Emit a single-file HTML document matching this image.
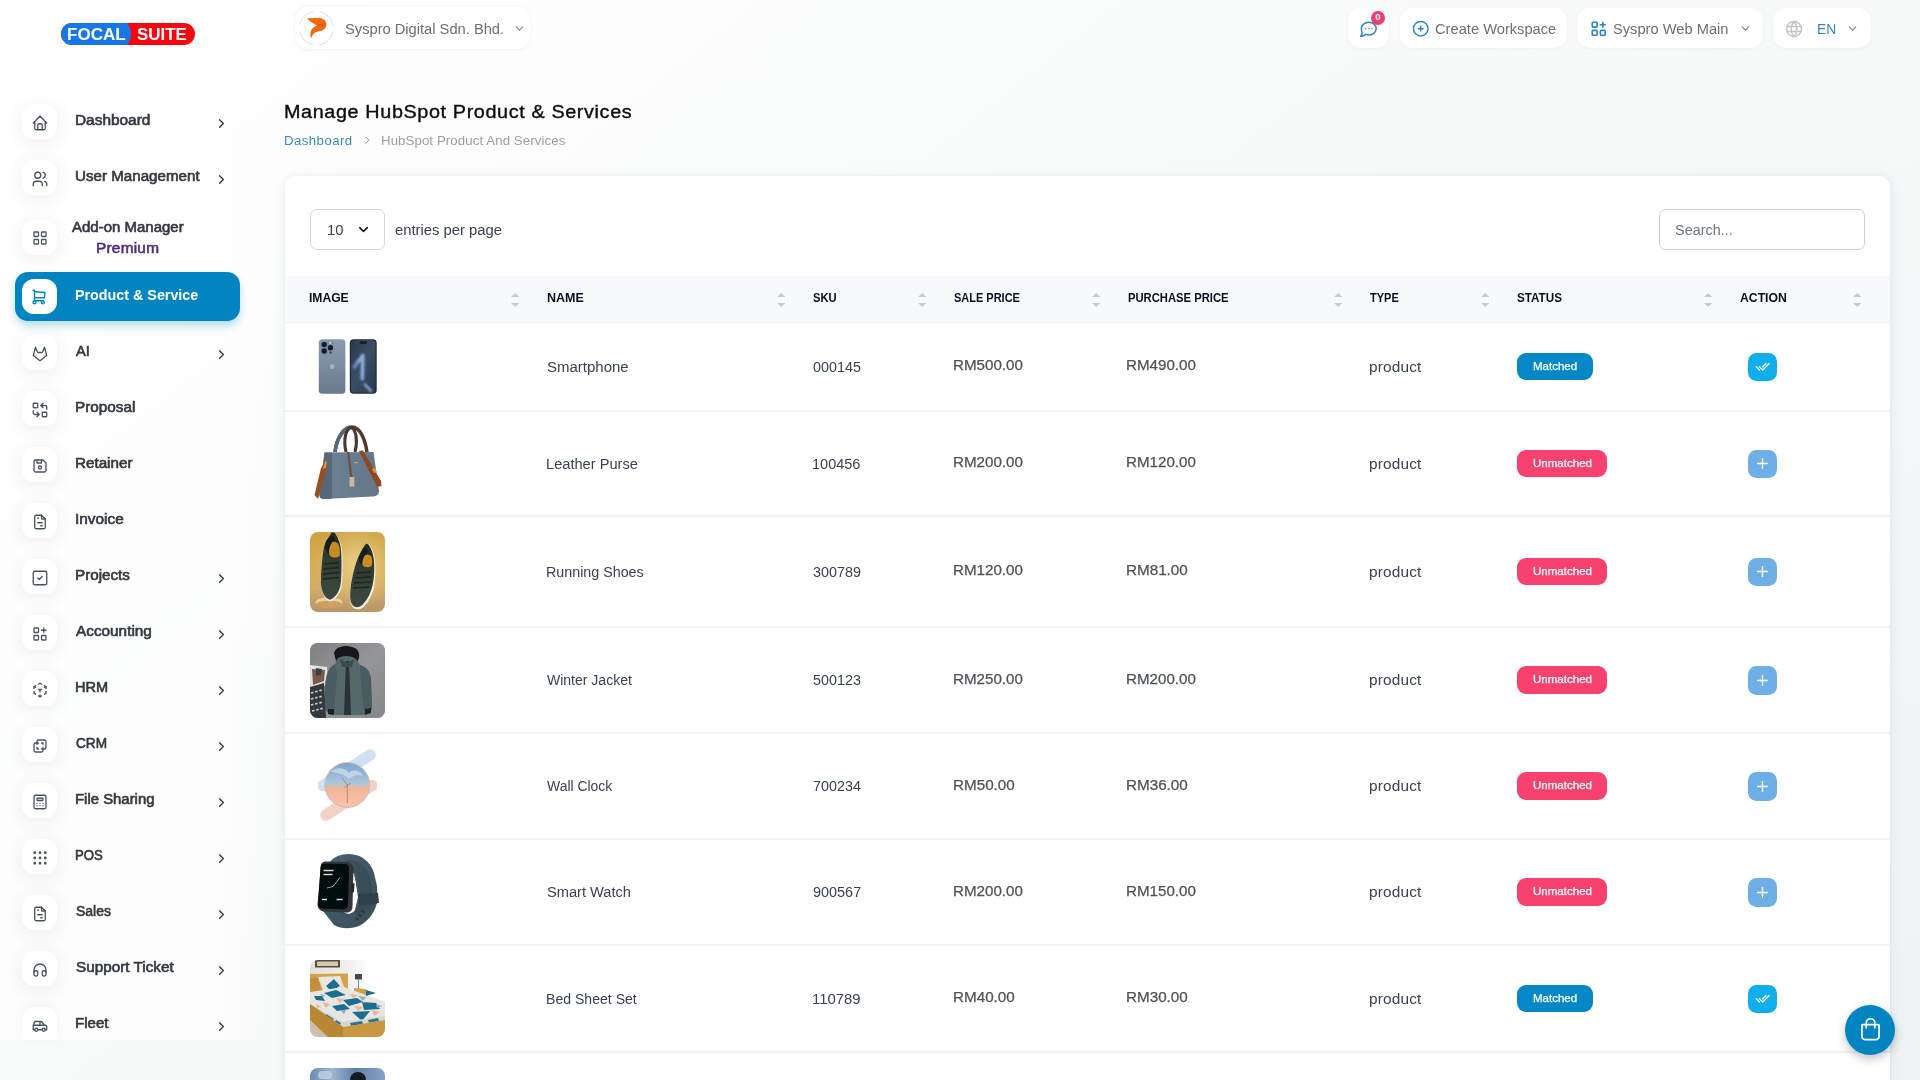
<!DOCTYPE html><html><head><meta charset="utf-8"><title>Manage HubSpot Product &amp; Services</title><style>

*{box-sizing:border-box;margin:0;padding:0}
html,body{width:1920px;height:1080px;overflow:hidden}
body{position:relative;background:#fff;font-family:"Liberation Sans", sans-serif;}
.t{position:absolute;white-space:nowrap;transform-origin:0 50%;}
svg{position:absolute;overflow:visible}
div{position:absolute}
.ib{width:35px;height:35px;left:22px;border-radius:12px;background:#fff;box-shadow:0 3px 18px rgba(70,75,90,.085)}
.hb{background:#fff;border-radius:13px;top:8px;height:40px;box-shadow:0 1px 3px rgba(200,205,215,.18)}
.sep{left:285px;width:1605px;height:2px;background:#f1f1f2}
.bm{left:1517px;width:76px;height:27.2px;border-radius:9px;background:#0688c6}
.bu{left:1517px;width:90px;height:27.2px;border-radius:9px;background:#f7426f}
.am{left:1748px;width:29px;height:28.4px;border-radius:8.5px;background:#10afeb}
.au{left:1748px;width:29px;height:28.4px;border-radius:8.5px;background:#6eb0e6}
.pi{overflow:hidden}

</style></head><body>
<div style="left:0;top:0;width:1920px;height:1080px;background:linear-gradient(141.55deg,rgba(240,244,243,0) 3.46%,#f0f3f4 99.86%),#fff"></div>
<div style="left:0;top:0;width:270px;height:1040px;background:linear-gradient(90deg,rgba(255,255,255,.6) 0,rgba(255,255,255,.6) 80%,rgba(255,255,255,0) 100%)"></div>
<div style="left:61px;top:23px;width:134px;height:22px;border-radius:11px;background:#f8050f;overflow:hidden"><div style="left:-10px;top:-6px;width:80px;height:34px;border-radius:0 17px 17px 0;background:#1877e6"></div></div>
<span class="t " style="left:66.83px;top:24.59px;font-size:16.3px;color:#fff;font-weight:700;line-height:18.73px;transform:scaleX(1.0486);">FOCAL</span>
<span class="t " style="left:136.73px;top:24.59px;font-size:16.3px;color:#fff;font-weight:700;line-height:18.73px;transform:scaleX(1.0398);">SUITE</span>
<div class="ib" style="top:104px"></div>
<svg style="left:30.6px;top:114.1px" width="18" height="18" viewBox="0 0 24 24" fill="none" stroke="#49535d" stroke-width="1.75" stroke-linecap="round" stroke-linejoin="round"><path d="M5 12l-2 0l9 -9l9 9l-2 0"/><path d="M5 12v7a2 2 0 0 0 2 2h10a2 2 0 0 0 2 -2v-7"/><path d="M9 21v-6a2 2 0 0 1 2 -2h2a2 2 0 0 1 2 2v6"/></svg>
<span class="t " style="left:75.0px;top:112.11px;font-size:14px;color:#34393f;font-weight:400;line-height:16.09px;transform:scaleX(1.1);-webkit-text-stroke:.6px #34393f;">Dashboard</span>
<svg style="left:214.1px;top:115.7px" width="15" height="15" viewBox="0 0 24 24" fill="none" stroke="#33383d" stroke-width="2.1" stroke-linecap="round" stroke-linejoin="round"><path d="M9 6l6 6l-6 6"/></svg>
<div class="ib" style="top:160px"></div>
<svg style="left:30.6px;top:170.10000000000002px" width="18" height="18" viewBox="0 0 24 24" fill="none" stroke="#49535d" stroke-width="1.75" stroke-linecap="round" stroke-linejoin="round"><path d="M5 7a4 4 0 1 0 8 0a4 4 0 1 0 -8 0"/><path d="M3 21v-2a4 4 0 0 1 4 -4h4a4 4 0 0 1 4 4v2"/><path d="M16 3.13a4 4 0 0 1 0 7.75"/><path d="M21 21v-2a4 4 0 0 0 -3 -3.85"/></svg>
<span class="t " style="left:75.25px;top:168.11px;font-size:14px;color:#34393f;font-weight:400;line-height:16.09px;transform:scaleX(1.0819);-webkit-text-stroke:.6px #34393f;">User Management</span>
<svg style="left:214.1px;top:171.7px" width="15" height="15" viewBox="0 0 24 24" fill="none" stroke="#33383d" stroke-width="2.1" stroke-linecap="round" stroke-linejoin="round"><path d="M9 6l6 6l-6 6"/></svg>
<div class="ib" style="top:335px"></div>
<svg style="left:30.6px;top:345.1px" width="18" height="18" viewBox="0 0 24 24" fill="none" stroke="#49535d" stroke-width="1.75" stroke-linecap="round" stroke-linejoin="round"><path d="M21 14l-9 7l-9 -7l3 -11l3 7h6l3 -7z"/></svg>
<span class="t " style="left:76.2px;top:343.11px;font-size:14px;color:#34393f;font-weight:400;line-height:16.09px;transform:scaleX(1.0449);-webkit-text-stroke:.6px #34393f;">AI</span>
<svg style="left:214.1px;top:346.7px" width="15" height="15" viewBox="0 0 24 24" fill="none" stroke="#33383d" stroke-width="2.1" stroke-linecap="round" stroke-linejoin="round"><path d="M9 6l6 6l-6 6"/></svg>
<div class="ib" style="top:391px"></div>
<svg style="left:30.6px;top:401.1px" width="18" height="18" viewBox="0 0 24 24" fill="none" stroke="#49535d" stroke-width="1.75" stroke-linecap="round" stroke-linejoin="round"><path d="M3 4a1 1 0 0 1 1 -1h4a1 1 0 0 1 1 1v4a1 1 0 0 1 -1 1h-4a1 1 0 0 1 -1 -1z"/><path d="M15 16a1 1 0 0 1 1 -1h4a1 1 0 0 1 1 1v4a1 1 0 0 1 -1 1h-4a1 1 0 0 1 -1 -1z"/><path d="M21 11v-3a2 2 0 0 0 -2 -2h-6l3 3m0 -6l-3 3"/><path d="M3 13v3a2 2 0 0 0 2 2h6l-3 -3m0 6l3 -3"/></svg>
<span class="t " style="left:75.0px;top:399.11px;font-size:14px;color:#34393f;font-weight:400;line-height:16.09px;transform:scaleX(1.0932);-webkit-text-stroke:.6px #34393f;">Proposal</span>
<div class="ib" style="top:447px"></div>
<svg style="left:30.6px;top:457.1px" width="18" height="18" viewBox="0 0 24 24" fill="none" stroke="#49535d" stroke-width="1.75" stroke-linecap="round" stroke-linejoin="round"><path d="M6 4h10l4 4v10a2 2 0 0 1 -2 2h-12a2 2 0 0 1 -2 -2v-12a2 2 0 0 1 2 -2"/><path d="M10 14a2 2 0 1 0 4 0a2 2 0 1 0 -4 0"/><path d="M14 4l0 4l-6 0l0 -4"/></svg>
<span class="t " style="left:75.01px;top:455.11px;font-size:14px;color:#34393f;font-weight:400;line-height:16.09px;transform:scaleX(1.0859);-webkit-text-stroke:.6px #34393f;">Retainer</span>
<div class="ib" style="top:503px"></div>
<svg style="left:30.6px;top:513.0999999999999px" width="18" height="18" viewBox="0 0 24 24" fill="none" stroke="#49535d" stroke-width="1.75" stroke-linecap="round" stroke-linejoin="round"><path d="M14 3v4a1 1 0 0 0 1 1h4"/><path d="M17 21h-10a2 2 0 0 1 -2 -2v-14a2 2 0 0 1 2 -2h7l5 5v11a2 2 0 0 1 -2 2z"/><path d="M9 7l1 0"/><path d="M9 13l6 0"/><path d="M13 17l2 0"/></svg>
<span class="t " style="left:75.0px;top:511.11px;font-size:14px;color:#34393f;font-weight:400;line-height:16.09px;transform:scaleX(1.1);-webkit-text-stroke:.6px #34393f;">Invoice</span>
<div class="ib" style="top:559px"></div>
<svg style="left:30.6px;top:569.0999999999999px" width="18" height="18" viewBox="0 0 24 24" fill="none" stroke="#49535d" stroke-width="1.75" stroke-linecap="round" stroke-linejoin="round"><path d="M3 5a2 2 0 0 1 2 -2h14a2 2 0 0 1 2 2v14a2 2 0 0 1 -2 2h-14a2 2 0 0 1 -2 -2z"/><path d="M9 12l2 2l4 -4"/></svg>
<span class="t " style="left:75.01px;top:567.11px;font-size:14px;color:#34393f;font-weight:400;line-height:16.09px;transform:scaleX(1.0848);-webkit-text-stroke:.6px #34393f;">Projects</span>
<svg style="left:214.1px;top:570.7px" width="15" height="15" viewBox="0 0 24 24" fill="none" stroke="#33383d" stroke-width="2.1" stroke-linecap="round" stroke-linejoin="round"><path d="M9 6l6 6l-6 6"/></svg>
<div class="ib" style="top:615px"></div>
<svg style="left:30.6px;top:625.0999999999999px" width="18" height="18" viewBox="0 0 24 24" fill="none" stroke="#49535d" stroke-width="1.75" stroke-linecap="round" stroke-linejoin="round"><path d="M4 5a1 1 0 0 1 1 -1h4a1 1 0 0 1 1 1v4a1 1 0 0 1 -1 1h-4a1 1 0 0 1 -1 -1z"/><path d="M4 15a1 1 0 0 1 1 -1h4a1 1 0 0 1 1 1v4a1 1 0 0 1 -1 1h-4a1 1 0 0 1 -1 -1z"/><path d="M14 15a1 1 0 0 1 1 -1h4a1 1 0 0 1 1 1v4a1 1 0 0 1 -1 1h-4a1 1 0 0 1 -1 -1z"/><path d="M14 7l6 0"/><path d="M17 4l0 6"/></svg>
<span class="t " style="left:76.2px;top:623.11px;font-size:14px;color:#34393f;font-weight:400;line-height:16.09px;transform:scaleX(1.0952);-webkit-text-stroke:.6px #34393f;">Accounting</span>
<svg style="left:214.1px;top:626.7px" width="15" height="15" viewBox="0 0 24 24" fill="none" stroke="#33383d" stroke-width="2.1" stroke-linecap="round" stroke-linejoin="round"><path d="M9 6l6 6l-6 6"/></svg>
<div class="ib" style="top:671px"></div>
<svg style="left:30.6px;top:681.0999999999999px" width="18" height="18" viewBox="0 0 24 24" fill="none" stroke="#49535d" stroke-width="1.75" stroke-linecap="round" stroke-linejoin="round"><path d="M6 17.6l-2 -1.1v-2.5"/><path d="M4 10v-2.5l2 -1.1"/><path d="M10 4.1l2 -1.1l2 1.1"/><path d="M18 6.4l2 1.1v2.5"/><path d="M20 14v2.5l-2 1.12"/><path d="M14 19.9l-2 1.1l-2 -1.1"/><path d="M12 12l2 -1.1"/><path d="M18 8.6l2 -1.1"/><path d="M12 12l0 2.5"/><path d="M12 18.5l0 2.5"/><path d="M12 12l-2 -1.12"/><path d="M6 8.6l-2 -1.1"/></svg>
<span class="t " style="left:75.06px;top:679.11px;font-size:14px;color:#34393f;font-weight:400;line-height:16.09px;transform:scaleX(1.0387);-webkit-text-stroke:.6px #34393f;">HRM</span>
<svg style="left:214.1px;top:682.7px" width="15" height="15" viewBox="0 0 24 24" fill="none" stroke="#33383d" stroke-width="2.1" stroke-linecap="round" stroke-linejoin="round"><path d="M9 6l6 6l-6 6"/></svg>
<div class="ib" style="top:727px"></div>
<svg style="left:30.6px;top:737.0999999999999px" width="18" height="18" viewBox="0 0 24 24" fill="none" stroke="#49535d" stroke-width="1.75" stroke-linecap="round" stroke-linejoin="round"><path d="M16 16v2a2 2 0 0 1 -2 2h-8a2 2 0 0 1 -2 -2v-8a2 2 0 0 1 2 -2h2v-2a2 2 0 0 1 2 -2h8a2 2 0 0 1 2 2v8a2 2 0 0 1 -2 2h-2"/><path d="M10 8l-2 0l0 2"/><path d="M8 14l0 2l2 0"/><path d="M14 8l2 0l0 2"/><path d="M16 14l0 2l-2 0"/></svg>
<span class="t " style="left:75.56px;top:735.11px;font-size:14px;color:#34393f;font-weight:400;line-height:16.09px;transform:scaleX(0.9741);-webkit-text-stroke:.6px #34393f;">CRM</span>
<svg style="left:214.1px;top:738.7px" width="15" height="15" viewBox="0 0 24 24" fill="none" stroke="#33383d" stroke-width="2.1" stroke-linecap="round" stroke-linejoin="round"><path d="M9 6l6 6l-6 6"/></svg>
<div class="ib" style="top:783px"></div>
<svg style="left:30.6px;top:793.0999999999999px" width="18" height="18" viewBox="0 0 24 24" fill="none" stroke="#49535d" stroke-width="1.75" stroke-linecap="round" stroke-linejoin="round"><path d="M4 5a2 2 0 0 1 2 -2h12a2 2 0 0 1 2 2v14a2 2 0 0 1 -2 2h-12a2 2 0 0 1 -2 -2z"/><path d="M8 8a1 1 0 0 1 1 -1h6a1 1 0 0 1 1 1v1a1 1 0 0 1 -1 1h-6a1 1 0 0 1 -1 -1z"/><path d="M8 14l0 .01"/><path d="M12 14l0 .01"/><path d="M16 14l0 .01"/><path d="M8 17l0 .01"/><path d="M12 17l0 .01"/><path d="M16 17l0 .01"/></svg>
<span class="t " style="left:75.04px;top:791.11px;font-size:14px;color:#34393f;font-weight:400;line-height:16.09px;transform:scaleX(1.0642);-webkit-text-stroke:.6px #34393f;">File Sharing</span>
<svg style="left:214.1px;top:794.7px" width="15" height="15" viewBox="0 0 24 24" fill="none" stroke="#33383d" stroke-width="2.1" stroke-linecap="round" stroke-linejoin="round"><path d="M9 6l6 6l-6 6"/></svg>
<div class="ib" style="top:839px"></div>
<svg style="left:30.6px;top:849.0999999999999px" width="18" height="18" viewBox="0 0 24 24" fill="none" stroke="#49535d" stroke-width="1.75" stroke-linecap="round" stroke-linejoin="round"><path d="M4 5a1 1 0 1 0 2 0a1 1 0 1 0 -2 0"/><path d="M4 12a1 1 0 1 0 2 0a1 1 0 1 0 -2 0"/><path d="M4 19a1 1 0 1 0 2 0a1 1 0 1 0 -2 0"/><path d="M11 5a1 1 0 1 0 2 0a1 1 0 1 0 -2 0"/><path d="M11 12a1 1 0 1 0 2 0a1 1 0 1 0 -2 0"/><path d="M11 19a1 1 0 1 0 2 0a1 1 0 1 0 -2 0"/><path d="M18 5a1 1 0 1 0 2 0a1 1 0 1 0 -2 0"/><path d="M18 12a1 1 0 1 0 2 0a1 1 0 1 0 -2 0"/><path d="M18 19a1 1 0 1 0 2 0a1 1 0 1 0 -2 0"/></svg>
<span class="t " style="left:75.17px;top:847.11px;font-size:14px;color:#34393f;font-weight:400;line-height:16.09px;transform:scaleX(0.9396);-webkit-text-stroke:.6px #34393f;">POS</span>
<svg style="left:214.1px;top:850.7px" width="15" height="15" viewBox="0 0 24 24" fill="none" stroke="#33383d" stroke-width="2.1" stroke-linecap="round" stroke-linejoin="round"><path d="M9 6l6 6l-6 6"/></svg>
<div class="ib" style="top:895px"></div>
<svg style="left:30.6px;top:905.0999999999999px" width="18" height="18" viewBox="0 0 24 24" fill="none" stroke="#49535d" stroke-width="1.75" stroke-linecap="round" stroke-linejoin="round"><path d="M14 3v4a1 1 0 0 0 1 1h4"/><path d="M17 21h-10a2 2 0 0 1 -2 -2v-14a2 2 0 0 1 2 -2h7l5 5v11a2 2 0 0 1 -2 2z"/><path d="M9 7l1 0"/><path d="M9 13l6 0"/><path d="M13 17l2 0"/></svg>
<span class="t " style="left:75.76px;top:903.11px;font-size:14px;color:#34393f;font-weight:400;line-height:16.09px;transform:scaleX(0.9957);-webkit-text-stroke:.6px #34393f;">Sales</span>
<svg style="left:214.1px;top:906.7px" width="15" height="15" viewBox="0 0 24 24" fill="none" stroke="#33383d" stroke-width="2.1" stroke-linecap="round" stroke-linejoin="round"><path d="M9 6l6 6l-6 6"/></svg>
<div class="ib" style="top:951px"></div>
<svg style="left:30.6px;top:961.0999999999999px" width="18" height="18" viewBox="0 0 24 24" fill="none" stroke="#49535d" stroke-width="1.75" stroke-linecap="round" stroke-linejoin="round"><path d="M4 15a2 2 0 0 1 2 -2h1a2 2 0 0 1 2 2v3a2 2 0 0 1 -2 2h-1a2 2 0 0 1 -2 -2z"/><path d="M15 15a2 2 0 0 1 2 -2h1a2 2 0 0 1 2 2v3a2 2 0 0 1 -2 2h-1a2 2 0 0 1 -2 -2z"/><path d="M4 15v-3a8 8 0 0 1 16 0v3"/></svg>
<span class="t " style="left:75.72px;top:959.11px;font-size:14px;color:#34393f;font-weight:400;line-height:16.09px;transform:scaleX(1.0912);-webkit-text-stroke:.6px #34393f;">Support Ticket</span>
<svg style="left:214.1px;top:962.7px" width="15" height="15" viewBox="0 0 24 24" fill="none" stroke="#33383d" stroke-width="2.1" stroke-linecap="round" stroke-linejoin="round"><path d="M9 6l6 6l-6 6"/></svg>
<div class="ib" style="top:1007px;height:33px;border-radius:12px 12px 3px 3px;box-shadow:0 -2px 8px rgba(160,170,190,.12)"></div>
<svg style="left:30.6px;top:1017.0999999999999px" width="18" height="18" viewBox="0 0 24 24" fill="none" stroke="#49535d" stroke-width="1.75" stroke-linecap="round" stroke-linejoin="round"><path d="M5 17a2 2 0 1 0 4 0a2 2 0 1 0 -4 0"/><path d="M15 17a2 2 0 1 0 4 0a2 2 0 1 0 -4 0"/><path d="M5 17h-2v-6l2 -5h9l4 5h1a2 2 0 0 1 2 2v4h-2m-4 0h-6m-6 -6h15m-6 0v-5"/></svg>
<span class="t " style="left:75.02px;top:1015.11px;font-size:14px;color:#34393f;font-weight:400;line-height:16.09px;transform:scaleX(1.0772);-webkit-text-stroke:.6px #34393f;">Fleet</span>
<svg style="left:214.1px;top:1018.7px" width="15" height="15" viewBox="0 0 24 24" fill="none" stroke="#33383d" stroke-width="2.1" stroke-linecap="round" stroke-linejoin="round"><path d="M9 6l6 6l-6 6"/></svg>
<div class="ib" style="top:220px"></div>
<svg style="left:30.6px;top:228.5px" width="18" height="18" viewBox="0 0 24 24" fill="none" stroke="#49535d" stroke-width="1.75" stroke-linecap="round" stroke-linejoin="round"><path d="M4 5a1 1 0 0 1 1 -1h4a1 1 0 0 1 1 1v4a1 1 0 0 1 -1 1h-4a1 1 0 0 1 -1 -1z"/><path d="M14 5a1 1 0 0 1 1 -1h4a1 1 0 0 1 1 1v4a1 1 0 0 1 -1 1h-4a1 1 0 0 1 -1 -1z"/><path d="M4 15a1 1 0 0 1 1 -1h4a1 1 0 0 1 1 1v4a1 1 0 0 1 -1 1h-4a1 1 0 0 1 -1 -1z"/><path d="M14 15a1 1 0 0 1 1 -1h4a1 1 0 0 1 1 1v4a1 1 0 0 1 -1 1h-4a1 1 0 0 1 -1 -1z"/></svg>
<span class="t " style="left:72.4px;top:219.11px;font-size:14px;color:#34393f;font-weight:400;line-height:16.09px;transform:scaleX(1.0708);-webkit-text-stroke:.6px #34393f;">Add-on Manager</span>
<span class="t " style="left:96.2px;top:240.11px;font-size:14px;color:#4b2a82;font-weight:400;line-height:16.09px;letter-spacing:0.211px;transform:scaleX(1.1);-webkit-text-stroke:.5px #4b2a82;">Premium</span>
<div style="left:15px;top:272px;width:225px;height:49px;border-radius:13px;background:#0284c0;box-shadow:0 5px 9px rgba(2,132,192,.28)"></div>
<div class="ib" style="top:279px;box-shadow:none"></div>
<svg style="left:30.4px;top:287.8px" width="18" height="18" viewBox="0 0 24 24" fill="none" stroke="#0284c0" stroke-width="1.9" stroke-linecap="round" stroke-linejoin="round"><path d="M4 19a2 2 0 1 0 4 0a2 2 0 1 0 -4 0"/><path d="M15 19a2 2 0 1 0 4 0a2 2 0 1 0 -4 0"/><path d="M17 17h-11v-14h-2"/><path d="M6 5l14 1l-1 7h-13"/></svg>
<span class="t " style="left:75.31px;top:287.11px;font-size:14px;color:#fff;font-weight:700;line-height:16.09px;transform:scaleX(1.022);">Product &amp; Service</span>
<div class="hb" style="left:293.5px;top:5.3px;width:238.5px;height:45px;border-radius:15px;border:1px solid #f5f6f7;box-shadow:0 1px 2px rgba(200,205,215,.10)"></div>
<svg style="left:297.5px;top:9.8px" width="36" height="36" viewBox="0 0 36 36">
<defs><linearGradient id="pg" x1="0" y1="0" x2="1" y2="1"><stop offset="0" stop-color="#ff6a00"/><stop offset=".55" stop-color="#f26a12"/><stop offset="1" stop-color="#e0560c"/></linearGradient></defs>
<circle cx="18.300" cy="18.200" r="17" fill="none" stroke="#cfd8e4" stroke-width=".9" stroke-dasharray="19.700 7" stroke-dashoffset="-3.500" opacity=".9"/>
<path d="M9 8.500L14.700 8.100L21.400 8.100C24 8.100 26.400 9.600 27.600 11.500C28.600 13.200 28.500 15.600 28 16.500C27 19 24.500 20.800 21.400 21.300C18 21.800 16 23 14.700 24.900C13.800 26.300 13.200 27.600 12.900 28.600C12 26 12 22.500 13.400 20C14.400 18.200 16.500 16.600 19.200 15.600L17.200 14.200C15.300 13.600 12.800 12 11.200 10.600z" fill="url(#pg)"/>
<path d="M17.200 14.200C20 14.700 23.500 14.600 25.700 13.400C26.100 14.200 25.900 15 25.400 15.700C23 16.100 21 15.500 19.200 15.600z" fill="#cf4d0b" opacity=".8"/>
</svg>
<span class="t " style="left:344.94px;top:20.81px;font-size:14px;color:#6b7076;font-weight:400;line-height:16.09px;transform:scaleX(1.0484);">Syspro Digital Sdn. Bhd.</span>
<svg style="left:512.8px;top:21.9px" width="13" height="13" viewBox="0 0 24 24" fill="none" stroke="#7a828a" stroke-width="2" stroke-linecap="round" stroke-linejoin="round"><path d="M6 9l6 6l6 -6"/></svg>
<div class="hb" style="left:1347.5px;width:41.5px"></div>
<svg style="left:1359.3px;top:20.6px" width="19" height="17" viewBox="0 0 19 17" fill="none" stroke="#2b86c2" stroke-width="1.5" stroke-linecap="round" stroke-linejoin="round">
<path d="M9.800 1.300c4.100 0 7.400 2.800 7.400 6.300s-3.300 6.300-7.400 6.300c-1.100 0-2.100-.2-3-.5c-1.300 1.200-3.200 1.900-5.200 1.800c1-.9 1.500-2 1.600-3.300c-.5-1.200-.8-2.700-.8-4.300c0-3.500 3.300-6.300 7.400-6.300z"/>
<path d="M6.600 7.600l0 .01M9.800 7.600l0 .01M13 7.600l0 .01" stroke-width="1.600" stroke="#8795a6"/></svg>
<div style="left:1370.8px;top:10.8px;width:14px;height:14px;border-radius:7px;background:#f23c6c"></div>
<span class="t " style="left:1375.3px;top:12.45px;font-size:9.5px;color:#fff;font-weight:700;line-height:10.92px;">0</span>
<div class="hb" style="left:1400px;width:166.7px"></div>
<svg style="left:1410.8px;top:19.1px" width="19.4" height="19.4" viewBox="0 0 24 24" fill="none" stroke="#2b86c2" stroke-width="1.8" stroke-linecap="round" stroke-linejoin="round"><path d="M3 12a9 9 0 1 0 18 0a9 9 0 1 0 -18 0"/><path d="M9 12l6 0"/><path d="M12 9l0 6"/></svg>
<span class="t " style="left:1435.11px;top:20.81px;font-size:14px;color:#6b7076;font-weight:400;line-height:16.09px;transform:scaleX(1.0485);">Create Workspace</span>
<div class="hb" style="left:1577px;width:186px"></div>
<svg style="left:1588.55px;top:19.15px" width="19.5" height="19.5" viewBox="0 0 24 24" fill="none" stroke="#2b86c2" stroke-width="2" stroke-linecap="round" stroke-linejoin="round"><path d="M4 5a1 1 0 0 1 1 -1h4a1 1 0 0 1 1 1v4a1 1 0 0 1 -1 1h-4a1 1 0 0 1 -1 -1z"/><path d="M4 15a1 1 0 0 1 1 -1h4a1 1 0 0 1 1 1v4a1 1 0 0 1 -1 1h-4a1 1 0 0 1 -1 -1z"/><path d="M14 15a1 1 0 0 1 1 -1h4a1 1 0 0 1 1 1v4a1 1 0 0 1 -1 1h-4a1 1 0 0 1 -1 -1z"/><path d="M14 7l6 0"/><path d="M17 4l0 6"/></svg>
<span class="t " style="left:1612.84px;top:20.81px;font-size:14px;color:#6b7076;font-weight:400;line-height:16.09px;transform:scaleX(1.0477);">Syspro Web Main</span>
<svg style="left:1738.9px;top:21.9px" width="13" height="13" viewBox="0 0 24 24" fill="none" stroke="#7a828a" stroke-width="2" stroke-linecap="round" stroke-linejoin="round"><path d="M6 9l6 6l6 -6"/></svg>
<div class="hb" style="left:1773px;width:97.8px"></div>
<svg style="left:1784.2px;top:18.8px" width="20" height="20" viewBox="0 0 24 24" fill="none" stroke="#c4c6c8" stroke-width="1.9" stroke-linecap="round" stroke-linejoin="round"><path d="M3 12a9 9 0 1 0 18 0a9 9 0 1 0 -18 0"/><path d="M3.6 9l16.8 0"/><path d="M3.6 15l16.8 0"/><path d="M11.5 3a17 17 0 0 0 0 18"/><path d="M12.5 3a17 17 0 0 1 0 18"/></svg>
<span class="t " style="left:1817.22px;top:20.81px;font-size:14px;color:#3a87b5;font-weight:400;line-height:16.09px;transform:scaleX(0.9876);">EN</span>
<svg style="left:1846.3px;top:21.9px" width="13" height="13" viewBox="0 0 24 24" fill="none" stroke="#7a828a" stroke-width="2" stroke-linecap="round" stroke-linejoin="round"><path d="M6 9l6 6l6 -6"/></svg>
<span class="t " style="left:283.75px;top:101.92px;font-size:18px;color:#0a0c10;font-weight:400;line-height:20.68px;letter-spacing:0.559px;transform:scaleX(1.1);-webkit-text-stroke:.35px #0a0c10;">Manage HubSpot Product &amp; Services</span>
<span class="t " style="left:284.35px;top:134.55px;font-size:12px;color:#3d8ab0;font-weight:400;line-height:13.79px;letter-spacing:0.405px;transform:scaleX(1.1);">Dashboard</span>
<svg style="left:360.65px;top:133.95px" width="12.5" height="12.5" viewBox="0 0 24 24" fill="none" stroke="#8e9499" stroke-width="1.9" stroke-linecap="round" stroke-linejoin="round"><path d="M9 6l6 6l-6 6"/></svg>
<span class="t " style="left:381.35px;top:134.55px;font-size:12px;color:#9b9fa3;font-weight:400;line-height:13.79px;letter-spacing:0.102px;transform:scaleX(1.1);">HubSpot Product And Services</span>
<div style="left:285px;top:176px;width:1605px;height:920px;border-radius:11px;background:#fff;box-shadow:0 3px 14px rgba(170,178,190,.22),0 0 4px rgba(170,178,190,.12)"></div>
<div style="left:310px;top:209px;width:75px;height:41px;border-radius:7px;border:1px solid #d3d6da;background:#fff"></div>
<span class="t " style="left:326.87px;top:221.61px;font-size:14px;color:#3a4250;font-weight:400;line-height:16.09px;transform:scaleX(1.0593);">10</span>
<svg style="left:355.5px;top:221.9px" width="15" height="15" viewBox="0 0 24 24" fill="none" stroke="#111" stroke-width="2.4" stroke-linecap="round" stroke-linejoin="round"><path d="M6 9l6 6l6 -6"/></svg>
<span class="t " style="left:394.94px;top:221.61px;font-size:14px;color:#3a4250;font-weight:400;line-height:16.09px;transform:scaleX(1.0582);">entries per page</span>
<div style="left:1659px;top:209px;width:206px;height:41px;border-radius:7px;border:1px solid #cdd0d4;background:#fff"></div>
<span class="t " style="left:1675.35px;top:221.61px;font-size:14px;color:#6c757d;font-weight:400;line-height:16.09px;transform:scaleX(1.0308);">Search...</span>
<div style="left:285px;top:275.5px;width:1605px;height:47px;background:#f8f9fc"></div>
<div class="sep" style="top:321.7px;height:1.6px;background:#eff0f3"></div>
<span class="t " style="left:309.49px;top:292.25px;font-size:12px;color:#0b0c1c;font-weight:700;line-height:13.79px;transform:scaleX(1.0084);">IMAGE</span>
<span class="t " style="left:546.67px;top:292.25px;font-size:12px;color:#0b0c1c;font-weight:700;line-height:13.79px;transform:scaleX(1.0417);">NAME</span>
<span class="t " style="left:813.02px;top:292.25px;font-size:12px;color:#0b0c1c;font-weight:700;line-height:13.79px;transform:scaleX(0.9334);">SKU</span>
<span class="t " style="left:953.73px;top:292.25px;font-size:12px;color:#0b0c1c;font-weight:700;line-height:13.79px;transform:scaleX(0.915);">SALE PRICE</span>
<span class="t " style="left:1127.55px;top:292.25px;font-size:12px;color:#0b0c1c;font-weight:700;line-height:13.79px;transform:scaleX(0.9369);">PURCHASE PRICE</span>
<span class="t " style="left:1370.21px;top:292.25px;font-size:12px;color:#0b0c1c;font-weight:700;line-height:13.79px;transform:scaleX(0.9159);">TYPE</span>
<span class="t " style="left:1516.91px;top:292.25px;font-size:12px;color:#0b0c1c;font-weight:700;line-height:13.79px;transform:scaleX(0.9722);">STATUS</span>
<span class="t " style="left:1739.95px;top:292.25px;font-size:12px;color:#0b0c1c;font-weight:700;line-height:13.79px;transform:scaleX(1.0182);">ACTION</span>
<svg style="left:510.8px;top:293.2px" width="8.4" height="14" viewBox="0 0 8.4 14"><path d="M4.2 0L8.4 3.9H0z M4.2 14L8.4 10.1H0z" fill="#c9cacd" stroke="none"/></svg>
<svg style="left:776.8px;top:293.2px" width="8.4" height="14" viewBox="0 0 8.4 14"><path d="M4.2 0L8.4 3.9H0z M4.2 14L8.4 10.1H0z" fill="#c9cacd" stroke="none"/></svg>
<svg style="left:917.8px;top:293.2px" width="8.4" height="14" viewBox="0 0 8.4 14"><path d="M4.2 0L8.4 3.9H0z M4.2 14L8.4 10.1H0z" fill="#c9cacd" stroke="none"/></svg>
<svg style="left:1091.8px;top:293.2px" width="8.4" height="14" viewBox="0 0 8.4 14"><path d="M4.2 0L8.4 3.9H0z M4.2 14L8.4 10.1H0z" fill="#c9cacd" stroke="none"/></svg>
<svg style="left:1333.8px;top:293.2px" width="8.4" height="14" viewBox="0 0 8.4 14"><path d="M4.2 0L8.4 3.9H0z M4.2 14L8.4 10.1H0z" fill="#c9cacd" stroke="none"/></svg>
<svg style="left:1480.8px;top:293.2px" width="8.4" height="14" viewBox="0 0 8.4 14"><path d="M4.2 0L8.4 3.9H0z M4.2 14L8.4 10.1H0z" fill="#c9cacd" stroke="none"/></svg>
<svg style="left:1703.8px;top:293.2px" width="8.4" height="14" viewBox="0 0 8.4 14"><path d="M4.2 0L8.4 3.9H0z M4.2 14L8.4 10.1H0z" fill="#c9cacd" stroke="none"/></svg>
<svg style="left:1852.8px;top:293.2px" width="8.4" height="14" viewBox="0 0 8.4 14"><path d="M4.2 0L8.4 3.9H0z M4.2 14L8.4 10.1H0z" fill="#c9cacd" stroke="none"/></svg>
<div class="sep" style="top:410px"></div>
<span class="t " style="left:546.73px;top:358.91px;font-size:14px;color:#3a4250;font-weight:400;line-height:16.09px;transform:scaleX(1.0709);">Smartphone</span>
<span class="t " style="left:812.95px;top:358.91px;font-size:14px;color:#3a4250;font-weight:400;line-height:16.09px;transform:scaleX(1.026);">000145</span>
<span class="t " style="left:953.22px;top:357.11px;font-size:14px;color:#4d5359;font-weight:400;line-height:16.09px;transform:scaleX(1.0815);-webkit-text-stroke:.25px #4d5359;">RM500.00</span>
<span class="t " style="left:1126.42px;top:357.11px;font-size:14px;color:#4d5359;font-weight:400;line-height:16.09px;transform:scaleX(1.0815);-webkit-text-stroke:.25px #4d5359;">RM490.00</span>
<span class="t " style="left:1369.04px;top:358.91px;font-size:14px;color:#3a4250;font-weight:400;line-height:16.09px;letter-spacing:0.143px;transform:scaleX(1.1);">product</span>
<div class="bm" style="top:352.9px"></div>
<span class="t " style="left:1532.67px;top:359.63px;font-size:10.5px;color:#fff;font-weight:400;line-height:12.06px;transform:scaleX(1.0959);-webkit-text-stroke:.25px #fff;">Matched</span>
<div class="am" style="top:352.7px"></div>
<svg style="left:1754.85px;top:359.05px" width="15.5" height="15.5" viewBox="0 0 24 24" fill="none" stroke="#fff" stroke-width="1.9" stroke-linecap="round" stroke-linejoin="round"><path d="M7 12l5 5l10 -10"/><path d="M2 12l5 5m5 -5l5 -5"/></svg>
<div class="sep" style="top:515px"></div>
<span class="t " style="left:546.06px;top:455.91px;font-size:14px;color:#3a4250;font-weight:400;line-height:16.09px;transform:scaleX(1.0454);">Leather Purse</span>
<span class="t " style="left:812.49px;top:455.91px;font-size:14px;color:#3a4250;font-weight:400;line-height:16.09px;transform:scaleX(1.0359);">100456</span>
<span class="t " style="left:953.22px;top:454.11px;font-size:14px;color:#4d5359;font-weight:400;line-height:16.09px;transform:scaleX(1.0815);-webkit-text-stroke:.25px #4d5359;">RM200.00</span>
<span class="t " style="left:1126.42px;top:454.11px;font-size:14px;color:#4d5359;font-weight:400;line-height:16.09px;transform:scaleX(1.0815);-webkit-text-stroke:.25px #4d5359;">RM120.00</span>
<span class="t " style="left:1369.04px;top:455.91px;font-size:14px;color:#3a4250;font-weight:400;line-height:16.09px;letter-spacing:0.143px;transform:scaleX(1.1);">product</span>
<div class="bu" style="top:449.9px"></div>
<span class="t " style="left:1532.72px;top:456.63px;font-size:10.5px;color:#fff;font-weight:400;line-height:12.06px;transform:scaleX(1.0985);-webkit-text-stroke:.25px #fff;">Unmatched</span>
<div class="au" style="top:449.7px"></div>
<svg style="left:1754.2px;top:455.2px" width="17" height="17" viewBox="0 0 24 24" fill="none" stroke="#fff" stroke-width="1.8" stroke-linecap="round" stroke-linejoin="round"><path d="M12 5l0 14"/><path d="M5 12l14 0"/></svg>
<div class="sep" style="top:626px"></div>
<span class="t " style="left:546.08px;top:563.91px;font-size:14px;color:#3a4250;font-weight:400;line-height:16.09px;transform:scaleX(1.0201);">Running Shoes</span>
<span class="t " style="left:812.95px;top:563.91px;font-size:14px;color:#3a4250;font-weight:400;line-height:16.09px;transform:scaleX(1.026);">300789</span>
<span class="t " style="left:953.22px;top:562.11px;font-size:14px;color:#4d5359;font-weight:400;line-height:16.09px;transform:scaleX(1.0815);-webkit-text-stroke:.25px #4d5359;">RM120.00</span>
<span class="t " style="left:1126.41px;top:562.11px;font-size:14px;color:#4d5359;font-weight:400;line-height:16.09px;transform:scaleX(1.0873);-webkit-text-stroke:.25px #4d5359;">RM81.00</span>
<span class="t " style="left:1369.04px;top:563.91px;font-size:14px;color:#3a4250;font-weight:400;line-height:16.09px;letter-spacing:0.143px;transform:scaleX(1.1);">product</span>
<div class="bu" style="top:557.9px"></div>
<span class="t " style="left:1532.72px;top:564.63px;font-size:10.5px;color:#fff;font-weight:400;line-height:12.06px;transform:scaleX(1.0985);-webkit-text-stroke:.25px #fff;">Unmatched</span>
<div class="au" style="top:557.7px"></div>
<svg style="left:1754.2px;top:563.2px" width="17" height="17" viewBox="0 0 24 24" fill="none" stroke="#fff" stroke-width="1.8" stroke-linecap="round" stroke-linejoin="round"><path d="M12 5l0 14"/><path d="M5 12l14 0"/></svg>
<div class="sep" style="top:732px"></div>
<span class="t " style="left:547.2px;top:672.41px;font-size:14px;color:#3a4250;font-weight:400;line-height:16.09px;transform:scaleX(1.0006);">Winter Jacket</span>
<span class="t " style="left:812.95px;top:672.41px;font-size:14px;color:#3a4250;font-weight:400;line-height:16.09px;transform:scaleX(1.026);">500123</span>
<span class="t " style="left:953.22px;top:670.61px;font-size:14px;color:#4d5359;font-weight:400;line-height:16.09px;transform:scaleX(1.0815);-webkit-text-stroke:.25px #4d5359;">RM250.00</span>
<span class="t " style="left:1126.42px;top:670.61px;font-size:14px;color:#4d5359;font-weight:400;line-height:16.09px;transform:scaleX(1.0815);-webkit-text-stroke:.25px #4d5359;">RM200.00</span>
<span class="t " style="left:1369.04px;top:672.41px;font-size:14px;color:#3a4250;font-weight:400;line-height:16.09px;letter-spacing:0.143px;transform:scaleX(1.1);">product</span>
<div class="bu" style="top:666.4px"></div>
<span class="t " style="left:1532.72px;top:673.13px;font-size:10.5px;color:#fff;font-weight:400;line-height:12.06px;transform:scaleX(1.0985);-webkit-text-stroke:.25px #fff;">Unmatched</span>
<div class="au" style="top:666.2px"></div>
<svg style="left:1754.2px;top:671.7px" width="17" height="17" viewBox="0 0 24 24" fill="none" stroke="#fff" stroke-width="1.8" stroke-linecap="round" stroke-linejoin="round"><path d="M12 5l0 14"/><path d="M5 12l14 0"/></svg>
<div class="sep" style="top:838px"></div>
<span class="t " style="left:547.2px;top:778.41px;font-size:14px;color:#3a4250;font-weight:400;line-height:16.09px;transform:scaleX(0.9952);">Wall Clock</span>
<span class="t " style="left:812.73px;top:778.41px;font-size:14px;color:#3a4250;font-weight:400;line-height:16.09px;transform:scaleX(1.026);">700234</span>
<span class="t " style="left:953.21px;top:776.61px;font-size:14px;color:#4d5359;font-weight:400;line-height:16.09px;transform:scaleX(1.0873);-webkit-text-stroke:.25px #4d5359;">RM50.00</span>
<span class="t " style="left:1126.41px;top:776.61px;font-size:14px;color:#4d5359;font-weight:400;line-height:16.09px;transform:scaleX(1.0873);-webkit-text-stroke:.25px #4d5359;">RM36.00</span>
<span class="t " style="left:1369.04px;top:778.41px;font-size:14px;color:#3a4250;font-weight:400;line-height:16.09px;letter-spacing:0.143px;transform:scaleX(1.1);">product</span>
<div class="bu" style="top:772.4px"></div>
<span class="t " style="left:1532.72px;top:779.13px;font-size:10.5px;color:#fff;font-weight:400;line-height:12.06px;transform:scaleX(1.0985);-webkit-text-stroke:.25px #fff;">Unmatched</span>
<div class="au" style="top:772.2px"></div>
<svg style="left:1754.2px;top:777.7px" width="17" height="17" viewBox="0 0 24 24" fill="none" stroke="#fff" stroke-width="1.8" stroke-linecap="round" stroke-linejoin="round"><path d="M12 5l0 14"/><path d="M5 12l14 0"/></svg>
<div class="sep" style="top:944px"></div>
<span class="t " style="left:546.74px;top:884.41px;font-size:14px;color:#3a4250;font-weight:400;line-height:16.09px;transform:scaleX(1.0447);">Smart Watch</span>
<span class="t " style="left:812.72px;top:884.41px;font-size:14px;color:#3a4250;font-weight:400;line-height:16.09px;transform:scaleX(1.0309);">900567</span>
<span class="t " style="left:953.22px;top:882.61px;font-size:14px;color:#4d5359;font-weight:400;line-height:16.09px;transform:scaleX(1.0815);-webkit-text-stroke:.25px #4d5359;">RM200.00</span>
<span class="t " style="left:1126.42px;top:882.61px;font-size:14px;color:#4d5359;font-weight:400;line-height:16.09px;transform:scaleX(1.0815);-webkit-text-stroke:.25px #4d5359;">RM150.00</span>
<span class="t " style="left:1369.04px;top:884.41px;font-size:14px;color:#3a4250;font-weight:400;line-height:16.09px;letter-spacing:0.143px;transform:scaleX(1.1);">product</span>
<div class="bu" style="top:878.4px"></div>
<span class="t " style="left:1532.72px;top:885.13px;font-size:10.5px;color:#fff;font-weight:400;line-height:12.06px;transform:scaleX(1.0985);-webkit-text-stroke:.25px #fff;">Unmatched</span>
<div class="au" style="top:878.2px"></div>
<svg style="left:1754.2px;top:883.7px" width="17" height="17" viewBox="0 0 24 24" fill="none" stroke="#fff" stroke-width="1.8" stroke-linecap="round" stroke-linejoin="round"><path d="M12 5l0 14"/><path d="M5 12l14 0"/></svg>
<div class="sep" style="top:1051px"></div>
<span class="t " style="left:546.1px;top:990.91px;font-size:14px;color:#3a4250;font-weight:400;line-height:16.09px;transform:scaleX(1.0051);">Bed Sheet Set</span>
<span class="t " style="left:812.47px;top:990.91px;font-size:14px;color:#3a4250;font-weight:400;line-height:16.09px;transform:scaleX(1.0602);">110789</span>
<span class="t " style="left:953.21px;top:989.11px;font-size:14px;color:#4d5359;font-weight:400;line-height:16.09px;transform:scaleX(1.0873);-webkit-text-stroke:.25px #4d5359;">RM40.00</span>
<span class="t " style="left:1126.41px;top:989.11px;font-size:14px;color:#4d5359;font-weight:400;line-height:16.09px;transform:scaleX(1.0873);-webkit-text-stroke:.25px #4d5359;">RM30.00</span>
<span class="t " style="left:1369.04px;top:990.91px;font-size:14px;color:#3a4250;font-weight:400;line-height:16.09px;letter-spacing:0.143px;transform:scaleX(1.1);">product</span>
<div class="bm" style="top:984.9px"></div>
<span class="t " style="left:1532.67px;top:991.63px;font-size:10.5px;color:#fff;font-weight:400;line-height:12.06px;transform:scaleX(1.0959);-webkit-text-stroke:.25px #fff;">Matched</span>
<div class="am" style="top:984.7px"></div>
<svg style="left:1754.85px;top:991.05px" width="15.5" height="15.5" viewBox="0 0 24 24" fill="none" stroke="#fff" stroke-width="1.9" stroke-linecap="round" stroke-linejoin="round"><path d="M7 12l5 5l10 -10"/><path d="M2 12l5 5m5 -5l5 -5"/></svg>

<!-- 1 smartphone -->
<svg style="left:310px;top:329px" width="75" height="75" viewBox="0 0 75 75">
<defs>
<linearGradient id="p1" x1="0" y1="0" x2="0" y2="1"><stop offset="0" stop-color="#8c9cb0"/><stop offset=".5" stop-color="#7b8ba0"/><stop offset="1" stop-color="#6a798c"/></linearGradient>
<linearGradient id="p2" x1="0" y1="0" x2="1" y2="1"><stop offset="0" stop-color="#2c3a4a"/><stop offset=".5" stop-color="#3a4e64"/><stop offset="1" stop-color="#27384c"/></linearGradient>
<filter id="bl1"><feGaussianBlur stdDeviation=".8"/></filter>
</defs>
<rect x="8.800" y="10.2" width="26.6" height="54.6" rx="3.600" fill="url(#p1)"/>
<rect x="10.600" y="11.800" width="13.600" height="13.800" rx="3.200" fill="#7e8ea4"/>
<circle cx="14.200" cy="15.600" r="2.700" fill="#141c2c"/><circle cx="14.200" cy="22" r="2.700" fill="#141c2c"/><circle cx="20.400" cy="18.800" r="2.700" fill="#141c2c"/>
<circle cx="20.300" cy="13.800" r="1.100" fill="#cfd8e4"/><circle cx="20.600" cy="23.600" r="1" fill="#2a3446"/>
<ellipse cx="22.200" cy="37.600" rx="2.300" ry="2.600" fill="#a3b1c3"/>
<rect x="39.800" y="10.200" width="26.900" height="54.600" rx="3.800" fill="#1c2735"/>
<rect x="40.900" y="11.200" width="24.700" height="52.600" rx="3" fill="url(#p2)"/>
<g filter="url(#bl1)"><path d="M43.500 37L52 24.500L54.600 25.500L54 51L50.600 51L51 31.500L45 40z" fill="#8fb3e2"/><path d="M53 55L55 54L63 62L60 63z" fill="#88abd8"/><path d="M42 37l5-7l1 6l-5 6z" fill="#5d7ea6" opacity=".7"/></g>
<rect x="49.600" y="12.600" width="7.400" height="2.200" rx="1.100" fill="#0f1620"/>
</svg>
<!-- 2 purse -->
<svg style="left:310px;top:423px" width="76" height="80" viewBox="0 0 76 80">
<defs><linearGradient id="b1" x1="0" y1="0" x2="1" y2="0"><stop offset="0" stop-color="#5f7083"/><stop offset=".25" stop-color="#6c7e92"/><stop offset="1" stop-color="#64768a"/></linearGradient><filter id="bl2"><feGaussianBlur stdDeviation=".45"/></filter></defs>
<g filter="url(#bl2)">
<path d="M25 29C27 12 36 4 42 4C50 4 55 16 57 29" fill="none" stroke="#573829" stroke-width="3.500"/>
<path d="M25 29C27 13 34 5 40 4" fill="none" stroke="#56687a" stroke-width="3.500"/>
<path d="M36 29C33 16 36 6 41 4.500C46 6 48 18 45 29" fill="none" stroke="#4a3831" stroke-width="3.100"/>
<path d="M14.500 29.500L63.500 29L69 68C69 72 66 73.500 62 73.500L14 76C10 76 9 73 9.500 70z" fill="url(#b1)"/>
<path d="M14.500 29.500L22 29.400L22 75.600L14 76C10 76 9 73 9.500 70z" fill="#56687b"/>
<path d="M16 37L11 45L4.500 72L8 76L13 58L18 42z" fill="#9a4f24"/>
<path d="M15 38l2 1l-1 6l-3 1z" fill="#c49a4a"/>
<path d="M49 28L53 27.500L71 58L71.500 63L67 64z" fill="#8d4a25"/>
<path d="M62 46l3-1l2 4l-3 1z" fill="#c9a050"/>
<path d="M37 29l2.500 0l3 26l-2.500 0z" fill="#6e5148"/>
<rect x="39.500" y="54" width="4.800" height="9.500" fill="#c9bc98"/>
<rect x="44" y="39" width="4" height="1.300" fill="#b9a070"/>
</g></svg>
<!-- 3 shoes -->
<div class="pi" style="left:310px;top:532px;width:75px;height:80px;border-radius:8px;background:linear-gradient(180deg,#cda244 0,#d6ae55 40%,#d3ac66 70%,#b79568 100%)">
<svg style="left:0;top:0" width="75" height="80" viewBox="0 0 75 80">
<defs><filter id="bl3"><feGaussianBlur stdDeviation=".75"/></filter>
<radialGradient id="sg" cx=".62" cy=".42" r=".55"><stop offset="0" stop-color="#ecd08a" stop-opacity=".95"/><stop offset="1" stop-color="#e6c77e" stop-opacity="0"/></radialGradient>
<linearGradient id="sh1" x1="0" y1="0" x2="0" y2="1"><stop offset="0" stop-color="#252c22"/><stop offset=".45" stop-color="#323d32"/><stop offset="1" stop-color="#3d4b40"/></linearGradient></defs>
<rect width="75" height="80" fill="url(#sg)"/>
<g filter="url(#bl3)">
<ellipse cx="19" cy="70.500" rx="13.500" ry="5.200" fill="#f0d09c"/><ellipse cx="19" cy="72.400" rx="13" ry="3.600" fill="#cf9f62"/>
<path d="M22.400 .5L25.200 1C29 6 31.700 12 32.200 20C32.800 30 32.800 44 32 52C31 60 27 67 20.600 69.500C15 68 11.800 62 11 52C10.600 44 11.500 32 13.100 20.400C14 13 16 8 17.800 6.500z" fill="#f3eee0"/>
<path d="M22 0L25 1C28.600 6 30.700 12 31.200 20C31.800 30 31.600 43 30.800 51C29.800 59 26 65.500 20 67.800C15 66.500 11.800 61 11 52C10.600 44 11.500 32 13.100 20.400C14 13 16 8 17.800 6.500z" fill="url(#sh1)"/>
<path d="M19 12C21 9.500 25 9 28 11.500C30 15 30.400 20 29.600 24C26 26.500 21.500 26 19.500 23C18.500 19 18.500 15 19 12z" fill="#c88a24"/>
<path d="M15.500 12C17 7.500 20 4.500 23 4L25.500 8C21.500 9.500 19 14 18.600 23C17 20 15 16 15.500 12z" fill="#181c15"/>
<path d="M14 32l15-1.500M13.500 37l15.500-1.500M13 42l16-1.500M12.800 47l16-1.500" stroke="#1e251d" stroke-width="1.500" fill="none"/>
<path d="M56.700 11.600L59 12.500C62 16 64 21 64.800 27C65.800 35 65.800 44 64.600 52C63 62 59 70 53 75.500C50 77.800 46 78 43.500 76C40.500 73 39.600 68 40 62C40.500 52 43 40 46.500 29.700C48.500 24 51 19 53.500 15z" fill="#f3eee0"/>
<path d="M56.200 11.600L58.500 12.500C61 16 63 21 63.800 27C64.600 35 64.400 43 63.200 50C61.600 60 57.500 68 52 73.200C49 75.500 45.500 75.800 43.200 74C40.600 71 39.800 67 40.200 61.500C40.700 52 43 40 46.500 29.700C48.500 24 51 19 53.500 15z" fill="url(#sh1)"/>
<path d="M52.500 25C54.500 22.500 58.500 22 61 24C62.500 27 62.600 31 61.600 34C58.500 36 54.500 35.500 52.500 33C51.600 30 51.800 27 52.500 25z" fill="#c88a24"/>
<path d="M49 26C50.500 20.500 53.500 16.500 56.500 15.500L58.600 20C55 21.500 52.500 26 52 33.500C50.500 31 48.500 29 49 26z" fill="#181c15"/>
<path d="M46 41l15-1M45 46l16-1M44 51l16.500-1M43 56l16.500-1" stroke="#1e251d" stroke-width="1.500" fill="none"/>
</g></svg></div>
<!-- 4 jacket -->
<div class="pi" style="left:310px;top:643px;width:75px;height:75px;border-radius:8px;background:#8c8e92">
<svg style="left:0;top:0" width="75" height="75" viewBox="0 0 75 75">
<defs><filter id="bl4"><feGaussianBlur stdDeviation=".55"/></filter><linearGradient id="jb" x1="0" y1="0" x2="1" y2="1"><stop offset="0" stop-color="#7f8185"/><stop offset=".5" stop-color="#939599"/><stop offset="1" stop-color="#85878b"/></linearGradient></defs>
<rect width="75" height="75" fill="url(#jb)"/>
<g filter="url(#bl4)">
<path d="M0 22L17 24L18 42L0 48z" fill="#dfe3e6"/>
<path d="M2 26L15 27L14 38L3 42z" fill="#7d5a44"/><path d="M6 25l6 1l-1 6l-5 1z" fill="#39434a"/>
<path d="M0 44L14 40L16 75L0 75z" fill="#33373b"/>
<path d="M1 50l11-3M1 56l12-3M1 62l12-3M2 68l12-3" stroke="#c9ccd0" stroke-width="1.700" stroke-dasharray="2.500 1.800" fill="none"/>
<path d="M24 10C26 3 36 2 42 4C47 5 50 9 49 15L46 22L27 22z" fill="#14181a"/>
<path d="M27 16C30 12 42 12 46 16L50 22C56 24 60 28 61 36L62 66L55 72L20 72L15 66L15 44C16 32 18 25 25 21z" fill="#55676a"/>
<path d="M15 44C16 32 18 25 25 21L27 30L24 70L20 72L15 66z" fill="#4b5d60"/>
<path d="M50 22C56 24 60 28 61 36L62 66L55 72L52 50z" fill="#4a5b5e"/>
<path d="M36 18L39 18L41 72L34 72z" fill="#2a3234"/>
<path d="M30 16l7 4l7-4l-2 8l-10 0z" fill="#3e4c4f"/>
<path d="M18 66l6 0l0 6l-6-1z M55 66l6-1l0 5l-6 2z" fill="#1f2426"/>
</g></svg></div>
<!-- 5 clock -->
<svg style="left:310px;top:748px" width="75" height="75" viewBox="0 0 75 75">
<defs><linearGradient id="ck" x1="0" y1="0" x2="0" y2="1"><stop offset="0" stop-color="#7ea3cf"/><stop offset=".4" stop-color="#a3c2dc"/><stop offset=".5" stop-color="#b9c6cf"/><stop offset=".56" stop-color="#f3b497"/><stop offset="1" stop-color="#f6c4ad"/></linearGradient><filter id="bl5"><feGaussianBlur stdDeviation=".6"/></filter></defs>
<g filter="url(#bl5)">
<path d="M13 37.500L60 7" stroke="#cfe1f2" stroke-width="11.500" stroke-linecap="round"/>
<path d="M16 67L62 37.500" stroke="#f3d2c6" stroke-width="11.500" stroke-linecap="round"/>
<circle cx="37.300" cy="37" r="22.400" fill="url(#ck)" stroke="#d9b8a8" stroke-width="1"/>
<path d="M21 24c6-6 14-4 18 1c4-4 10-3 14 3c-6-2-10 0-14 3c-5-5-12-6-18-7z" fill="#c9dcec" opacity=".8"/>
<path d="M37.300 36L37.300 55M37.300 37L32 30M34.500 39.500L41 35" stroke="#b78a6a" stroke-width="1" fill="none"/>
</g></svg>
<!-- 6 watch -->
<svg style="left:310px;top:853px" width="75" height="78" viewBox="0 0 75 78">
<defs><filter id="bl6"><feGaussianBlur stdDeviation=".55"/></filter><linearGradient id="ws" x1="0" y1="0" x2="1" y2="1"><stop offset="0" stop-color="#4b6171"/><stop offset="1" stop-color="#394d5a"/></linearGradient></defs>
<g filter="url(#bl6)">
<path d="M20 9C25 2 36 -0.500 46 2C55 4.500 61 11 64 20L67 33L67.500 47C66 57 60 67 50 72.500C42 76 32 76.500 24 72L13 58L18 50L32 57C36 62 41 62 45 57L48 44L44 21L37 12z" fill="url(#ws)"/>
<path d="M45 57C49 53 51 45 49.500 37L45.500 21L37 12L30 10C36 6 44 6 50 10C56 14 60 21 61.500 30L62 47C60 56 55 63 47 67z" fill="#34474f" opacity=".55"/>
<path d="M48 41l20-1l1 10l-20 3z" fill="#2f4049"/>
<path d="M52 58l2 1M49 62l2 1M46 65.500l2 1" stroke="#26343c" stroke-width="1.600" stroke-linecap="round"/>
<path d="M44.500 24C46 30 47 38 46.500 46C46 52 45 55 43.500 57L40 58L41 22z" fill="#fff"/>
<path d="M11 12.500C11 9.500 13.500 8.500 16.500 8.500L35.500 9C40.500 9 43.500 12 43.500 16L42.500 53.500C42.500 57.500 40 59.500 36 59.500L14.500 58.500C10.500 58.500 7.500 55.500 7.500 51.500z" fill="#30363a"/>
<path d="M10.500 14C10.500 12 12.500 10.800 14.500 10.800L34 11C37.500 11 39 13 39 16L38 51.500C38 54.500 36 56.200 33 56.200L13.500 55.500C10.500 55.500 8.200 53.500 8.200 50.500z" fill="#05070a"/>
<path d="M41.500 30l3 .5l-.5 9l-3-.5z" fill="#262b2e"/>
<path d="M13.500 17.500l10 0M13.500 21.500l9 0M12 46.500l5 0M26.500 46.500l6 0" stroke="#cfd6dc" stroke-width="1.500"/>
<path d="M17 35l6-1.500l7-9" stroke="#8fa7bd" stroke-width="1" fill="none"/>
</g></svg>
<!-- 7 bed -->
<div class="pi" style="left:310px;top:960px;width:75px;height:77px;border-radius:8px;background:#fff">
<svg style="left:0;top:0" width="75" height="77" viewBox="0 0 75 77">
<defs><filter id="bl7"><feGaussianBlur stdDeviation=".6"/></filter><linearGradient id="wl" x1="0" y1="0" x2="1" y2="0"><stop offset="0" stop-color="#e2e0dc"/><stop offset=".55" stop-color="#f2f1ef"/><stop offset=".8" stop-color="#ffffff"/></linearGradient></defs>
<rect width="75" height="77" fill="url(#wl)"/>
<g filter="url(#bl7)">
<rect x="5" y="0" width="25" height="7.500" fill="#5a5038"/><rect x="7" y="1.500" width="21" height="4.500" fill="#cfc8b4"/>
<rect x="45" y="14" width="7" height="5.500" fill="#4a4a4e"/><path d="M48.500 19.500l0 10" stroke="#666" stroke-width=".8"/>
<path d="M0 14L38 13.500L38 30L0 34z" fill="#d2a24e"/>
<path d="M0 18L8 17L11 30L0 33z" fill="#c4903c"/>
<path d="M8 17L30 16L34 27L14 33z" fill="#e9e6e0"/><path d="M16 26l8-7l6 7l-9 5z" fill="#1f6e8e"/>
<path d="M44 28l12 1l0 6l-12 0z" fill="#d0a050"/>
<path d="M0 32L34 27L75 42L75 60L33 67L0 44z" fill="#e8e6e2"/>
<path d="M14 33l12-3l10 5l-14 3z M33 40l14-2l6 4l-14 4z M22 46l12-2l6 5l-13 2z M52 42l14 1l4 6l-16 1z M42 52l18-1l-8 10z M4 36l8 0l3 5l-9-1z M56 30l10 3l-10 3z" fill="#1f6e8e"/>
<path d="M26 38l8 1l-4 4z M44 46l10 1l-6 4z M12 42l8 2l-4 4z M62 50l8 2l-6 4z M40 34l8 1l-5 3z M6 44l6 3l-5 1z" fill="#e6b79e"/><path d="M0 44L33 62L75 56L75 60L33 67L0 48z" fill="#d8d6d2"/><path d="M6 49l6 4l-2 2l-5-3z M16 54l8 5l-3 2l-6-4z M40 63l12-2l1 3l-12 2z M58 60l10-2l1 3l-10 2z M26 60l5 3l-1 2l-5-3z" fill="#2a7592"/><path d="M10 34l5 1l-2 3z M48 36l8 1l-3 4z M30 50l6 0l-2 4z M66 44l6 2l-5 2z" fill="#8fb0bf"/>
<path d="M0 44L33 67L75 60L75 77L0 77z" fill="#c8973f"/>
<path d="M0 44L33 67L33 77L18 77L0 60z" fill="#b98836"/>
<path d="M0 60L18 77L0 77z" fill="#cdbfae"/>
</g></svg></div>
<!-- 8 partial -->
<div class="pi" style="left:310px;top:1068px;width:75px;height:20px;border-radius:8px 8px 0 0;background:linear-gradient(90deg,#6d8cb4,#9db4d0 30%,#5f7fa8 60%,#8aa3c4)">
<div style="left:40px;top:4px;width:16px;height:18px;border-radius:8px 8px 0 0;background:#14181f"></div>
<div style="left:8px;top:3px;width:14px;height:8px;border-radius:4px;background:#c9d6e6;opacity:.7"></div>
</div>

<div style="left:1845px;top:1005px;width:50px;height:50px;border-radius:25px;background:#0284c0;box-shadow:0 4px 10px rgba(40,60,80,.3)"></div>
<svg style="left:1856.5px;top:1016.0px" width="27" height="27" viewBox="0 0 24 24" fill="none" stroke="#fff" stroke-width="1.55" stroke-linecap="round" stroke-linejoin="round"><path d="M5.2 7.6h13.6a.8 .8 0 0 1 .8 .8v9.600a3 3 0 0 1 -3 3h-9.200a3 3 0 0 1 -3 -3v-9.600a.8 .8 0 0 1 .8 -.8z"/><path d="M8.200 10.400v-4.200a3.800 3.800 0 0 1 7.600 0v4.200"/></svg>
</body></html>
